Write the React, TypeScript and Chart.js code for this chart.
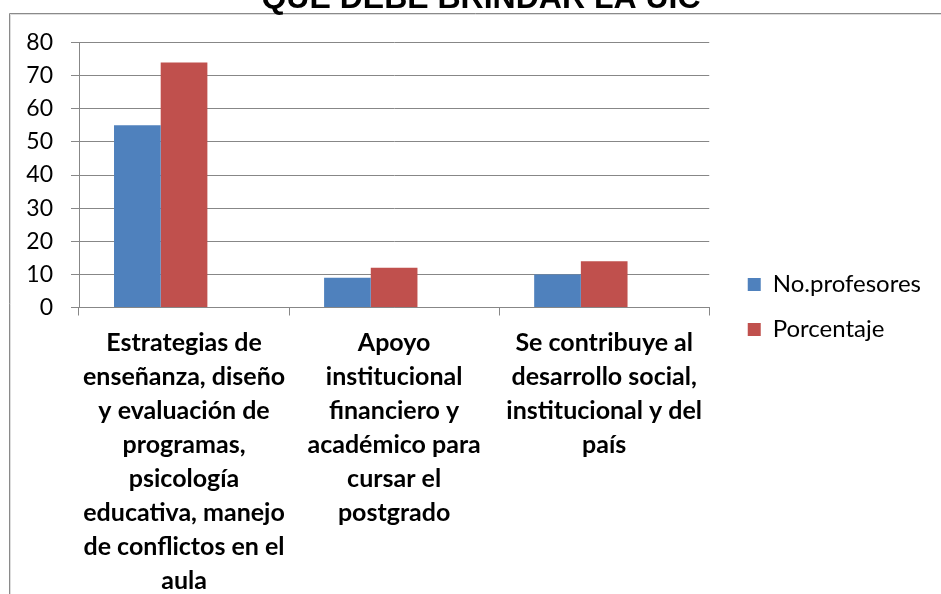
import React, { useEffect, useRef } from "react";
import { Chart, registerables } from "chart.js";

Chart.register(...registerables);

const chartTitle = "QUE DEBE BRINDAR LA UIC";

const categories: string[][] = [
  [
    "Estrategias de",
    "enseñanza, diseño",
    "y evaluación de",
    "programas,",
    "psicología",
    "educativa, manejo",
    "de conflictos en el",
    "aula",
  ],
  ["Apoyo", "institucional", "financiero y", "académico para", "cursar el", "postgrado"],
  ["Se contribuye al", "desarrollo social,", "institucional y del", "país"],
];

const seriesNames = ["No.profesores", "Porcentaje"];
const profesores = [55, 9, 10];
const porcentaje = [74, 12, 14];
const emptySeries = [0, 0, 0];

const yMin = 0;
const yMax = 80;
const yStep = 10;

const GRID = "#878787";

const framePlugin = {
  id: "frame",
  afterLayout(chart: any) {
    // let the category labels run to the bottom of the canvas
    if (chart.scales.x) chart.scales.x.bottom = chart.height;
  },
  beforeDraw(chart: any) {
    const { ctx, width, height } = chart;
    ctx.save();
    ctx.fillStyle = "#ffffff";
    ctx.fillRect(0, 0, width, height);
    ctx.lineWidth = 1;
    ctx.strokeStyle = "#dddddd";
    ctx.beginPath();
    ctx.moveTo(10.5, height);
    ctx.lineTo(10.5, 14.5);
    ctx.lineTo(width, 14.5);
    ctx.stroke();
    ctx.strokeStyle = "#8a8a8a";
    ctx.beginPath();
    ctx.moveTo(9.5, height);
    ctx.lineTo(9.5, 13.5);
    ctx.lineTo(width, 13.5);
    ctx.stroke();
    ctx.fillStyle = "#000000";
    ctx.font = 'bold 32px "Liberation Sans", Arial, sans-serif';
    ctx.textAlign = "center";
    ctx.textBaseline = "alphabetic";
    ctx.fillText(chartTitle, 481, 8);
    ctx.restore();
  },
};

export default function App() {
  const ref = useRef<HTMLCanvasElement | null>(null);

  useEffect(() => {
    if (!ref.current) return;
    const chart = new Chart(ref.current, {
      type: "bar",
      data: {
        labels: categories,
        datasets: [
          {
            label: seriesNames[0],
            data: profesores,
            backgroundColor: "#4F81BD",
            borderWidth: 0,
          },
          {
            label: seriesNames[1],
            data: porcentaje,
            backgroundColor: "#C0504D",
            borderWidth: 0,
          },
          {
            label: "",
            data: emptySeries,
            backgroundColor: "rgba(0,0,0,0)",
            borderWidth: 0,
          },
        ],
      },
      options: {
        responsive: false,
        animation: false,
        devicePixelRatio: 1,
        layout: { padding: { top: 42.5, bottom: 22.5, left: 0, right: 10 } },
        datasets: {
          bar: { categoryPercentage: 2 / 3, barPercentage: 1 },
        },
        plugins: {
          tooltip: { enabled: false },
          title: { display: false },
          legend: {
            display: true,
            position: "right",
            align: "center",
            maxWidth: 400,
            labels: {
              filter: (item: any) => item.datasetIndex < 2,
              boxWidth: 13,
              boxHeight: 13,
              padding: 21,
              color: "#000000",
              font: { family: "Lato", size: 24 },
            },
          },
        },
        scales: {
          x: {
            offset: true,
            grid: {
              display: true,
              offset: true,
              drawOnChartArea: false,
              drawTicks: true,
              tickLength: 8,
              color: GRID,
            },
            border: { display: true, color: GRID },
            ticks: {
              color: "#000000",
              padding: 10,
              maxRotation: 0,
              autoSkip: false,
              font: { family: "Lato", size: 25, weight: "bold", lineHeight: 1.36 },
            },
            afterFit: (s: any) => {
              s.height = 594 - 22.5 - 307.5;
            },
          },
          y: {
            min: yMin,
            max: yMax,
            position: "left",
            grid: { color: GRID, tickLength: 8, drawTicks: true },
            border: { display: true, color: GRID },
            ticks: {
              stepSize: yStep,
              color: "#000000",
              padding: 18,
              font: { family: "Lato", size: 23 },
            },
            afterFit: (s: any) => {
              s.width = 79;
            },
          },
          yRight: {
            type: "linear",
            position: "right",
            display: true,
            grid: { display: false },
            border: { display: false },
            ticks: { display: false },
            afterFit: (s: any) => {
              s.width = 17.5;
            },
          },
        },
      },
      plugins: [framePlugin],
    } as any);
    return () => chart.destroy();
  }, []);

  return (
    <div style={{ position: "absolute", left: 0, top: 0, width: 941, height: 594, background: "#fff" }}>
      <canvas ref={ref} width={941} height={594} style={{ display: "block", width: 941, height: 594 }} />
    </div>
  );
}
